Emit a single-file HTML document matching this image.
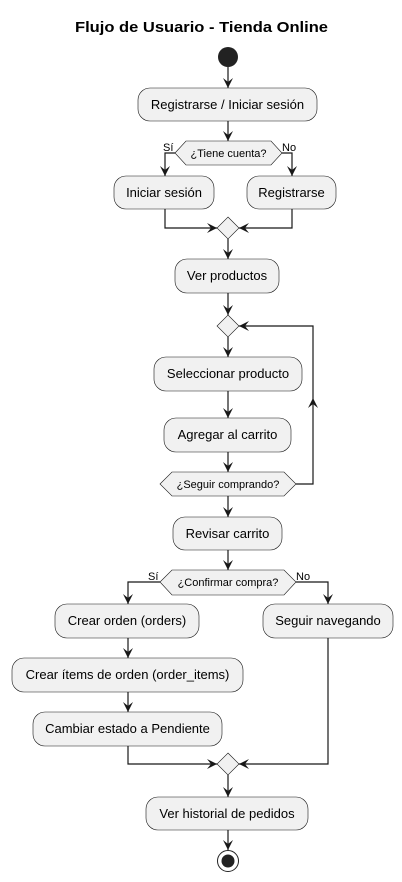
<!DOCTYPE html>
<html><head><meta charset="utf-8"><style>
html,body{margin:0;padding:0;background:#fff;}
svg{display:block;}
text{font-family:"Liberation Sans","DejaVu Sans",sans-serif;fill:#000;}
.b{fill:#f1f1f1;stroke:#181818;stroke-width:0.6;}
.l{fill:none;stroke:#181818;stroke-width:1.2;}
.a{fill:#181818;}
.t{font-size:13px;text-anchor:middle;}
.d{font-size:11px;text-anchor:middle;}
.s{font-size:11px;}
</style></head><body>
<svg width="402" height="882" viewBox="0 0 402 882">
<text x="75" y="32" textLength="253" lengthAdjust="spacingAndGlyphs" style="font-size:15px;font-weight:bold">Flujo de Usuario - Tienda Online</text>
<circle cx="228" cy="57" r="10" fill="#222"/>
<path class="l" d="M228 67V88"/><polygon class="a" points="228,88 223,78 228,82 233,78"/>
<rect class="b" x="138" y="88" width="179" height="33" rx="12"/>
<text class="t" x="227.5" y="109">Registrarse / Iniciar sesión</text>
<path class="l" d="M228 121V141"/><polygon class="a" points="228,141 223,131 228,135 233,131"/>
<polygon class="b" points="175,153 186,141 271,141 282,153 271,165 186,165"/>
<text class="d" x="228.5" y="157">¿Tiene cuenta?</text>
<text class="s" x="163" y="151">Sí</text><text class="s" x="282" y="151">No</text>
<path class="l" d="M175 153H165V176"/><polygon class="a" points="165,176 160,166 165,170 170,166"/>
<path class="l" d="M282 153H292V176"/><polygon class="a" points="292,176 287,166 292,170 297,166"/>
<rect class="b" x="114" y="176" width="100" height="33" rx="12"/>
<text class="t" x="164" y="197">Iniciar sesión</text>
<rect class="b" x="247" y="176" width="89" height="33" rx="12"/>
<text class="t" x="291.5" y="197">Registrarse</text>
<path class="l" d="M165 209V228H217"/><polygon class="a" points="217,228 207,223 211,228 207,233"/>
<path class="l" d="M292 209V228H239"/><polygon class="a" points="239,228 249,223 245,228 249,233"/>
<polygon class="b" points="228,217 239,228 228,239 217,228"/>
<path class="l" d="M228 239V259"/><polygon class="a" points="228,259 223,249 228,253 233,249"/>
<rect class="b" x="175" y="259" width="104" height="34" rx="12"/>
<text class="t" x="227" y="280">Ver productos</text>
<path class="l" d="M228 293V315"/><polygon class="a" points="228,315 223,305 228,309 233,305"/>
<polygon class="b" points="228,315 239,326 228,337 217,326"/>
<path class="l" d="M228 337V357"/><polygon class="a" points="228,357 223,347 228,351 233,347"/>
<rect class="b" x="154" y="357" width="148" height="34" rx="12"/>
<text class="t" x="228" y="378">Seleccionar producto</text>
<path class="l" d="M228 391V418"/><polygon class="a" points="228,418 223,408 228,412 233,408"/>
<rect class="b" x="164" y="418" width="127" height="34" rx="12"/>
<text class="t" x="227.5" y="439">Agregar al carrito</text>
<path class="l" d="M228 452V472"/><polygon class="a" points="228,472 223,462 228,466 233,462"/>
<polygon class="b" points="160,484 172,472 284,472 296,484 284,496 172,496"/>
<text class="d" x="228" y="488">¿Seguir comprando?</text>
<path class="l" d="M296 484H313V326H239"/><polygon class="a" points="239,326 249,321 245,326 249,331"/>
<polygon class="a" points="313,398 308,408 313,404 318,408"/>
<path class="l" d="M228 496V517"/><polygon class="a" points="228,517 223,507 228,511 233,507"/>
<rect class="b" x="173" y="517" width="109" height="33" rx="12"/>
<text class="t" x="227.5" y="538">Revisar carrito</text>
<path class="l" d="M228 550V570"/><polygon class="a" points="228,570 223,560 228,564 233,560"/>
<polygon class="b" points="160,582 172,570 284,570 296,582 284,595 172,595"/>
<text class="d" x="228" y="586">¿Confirmar compra?</text>
<text class="s" x="148" y="580">Sí</text><text class="s" x="296" y="580">No</text>
<path class="l" d="M160 582H128V604"/><polygon class="a" points="128,604 123,594 128,598 133,594"/>
<path class="l" d="M296 582H328V604"/><polygon class="a" points="328,604 323,594 328,598 333,594"/>
<rect class="b" x="55" y="604" width="144" height="34" rx="12"/>
<text class="t" x="127" y="625">Crear orden (orders)</text>
<rect class="b" x="263" y="604" width="130" height="34" rx="12"/>
<text class="t" x="328" y="625">Seguir navegando</text>
<path class="l" d="M128 638V658"/><polygon class="a" points="128,658 123,648 128,652 133,648"/>
<rect class="b" x="12" y="658" width="231" height="34" rx="12"/>
<text class="t" x="127.5" y="679">Crear ítems de orden (order_items)</text>
<path class="l" d="M128 692V712"/><polygon class="a" points="128,712 123,702 128,706 133,702"/>
<rect class="b" x="33" y="712" width="189" height="34" rx="12"/>
<text class="t" x="127.5" y="733">Cambiar estado a Pendiente</text>
<path class="l" d="M128 746V764H217"/><polygon class="a" points="217,764 207,759 211,764 207,769"/>
<path class="l" d="M328 638V764H239"/><polygon class="a" points="239,764 249,759 245,764 249,769"/>
<polygon class="b" points="228,753 239,764 228,775 217,764"/>
<path class="l" d="M228 775V797"/><polygon class="a" points="228,797 223,787 228,791 233,787"/>
<rect class="b" x="146" y="797" width="162" height="33" rx="12"/>
<text class="t" x="227" y="818">Ver historial de pedidos</text>
<path class="l" d="M228 830V850"/><polygon class="a" points="228,850 223,840 228,844 233,840"/>
<circle cx="228" cy="861" r="10.5" fill="none" stroke="#222" stroke-width="1"/>
<circle cx="228" cy="861" r="6.5" fill="#222"/>
</svg>
</body></html>
